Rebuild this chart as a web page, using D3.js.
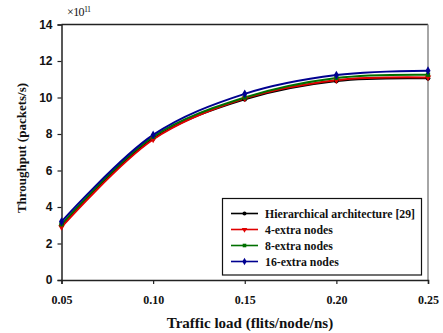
<!DOCTYPE html>
<html>
<head>
<meta charset="utf-8">
<script src="https://cdn.jsdelivr.net/npm/d3@7"></script>
<style>
  html, body { margin: 0; padding: 0; background: #fff; }
  svg { display: block; }
  .serif { font-family: "Liberation Serif", "Times New Roman", "DejaVu Serif", serif; font-weight: bold; }
  .sans { font-family: "Liberation Sans", Arial, sans-serif; font-weight: bold; }
</style>
</head>
<body>
<svg id="chart" width="443" height="333"></svg>
<script>
// Traffic load (flits/node/ns)
const loads = [0.05, 0.10, 0.15, 0.20, 0.25];
// Throughput in units of 1e11 packets/s
const hierarchical = [3.0, 7.75, 9.9, 10.9, 11.05];
const extra4 = [2.9, 7.7, 9.95, 10.95, 11.1];
const extra8 = [3.05, 7.85, 10.0, 11.07, 11.25];
const extra16 = [3.2, 7.95, 10.2, 11.23, 11.47];

const seriesNames = ["Hierarchical architecture [29]", "4-extra nodes", "8-extra nodes", "16-extra nodes"];
const seriesColors = ["#000000", "#e00000", "#007000", "#000090"];
const seriesSymbols = [d3.symbolCircle, d3.symbolTriangle, d3.symbolSquare, d3.symbolDiamond];
const seriesValues = [hierarchical, extra4, extra8, extra16];

const xTicks = [0.05, 0.10, 0.15, 0.20, 0.25];
const yTicks = [0, 2, 4, 6, 8, 10, 12, 14];

const svg = d3.select("#chart");
const plotLeft = 61.5, plotRight = 428, plotTop = 24.5, plotBottom = 280;

const x = d3.scaleLinear().domain([0.05, 0.25]).range([plotLeft, plotRight]);
const y = d3.scaleLinear().domain([0, 14]).range([plotBottom, plotTop]);

// frame: top edge dark, right edge grey
svg.append("line").attr("x1", plotLeft).attr("x2", plotRight).attr("y1", plotTop).attr("y2", plotTop)
  .attr("stroke", "#222").attr("stroke-width", 1.5);
svg.append("line").attr("x1", plotRight).attr("x2", plotRight).attr("y1", plotTop).attr("y2", plotBottom)
  .attr("stroke", "#888").attr("stroke-width", 1.5);

// y axis
const yAxis = svg.append("g").attr("transform", `translate(${plotLeft},0)`)
  .call(d3.axisLeft(y).tickValues(yTicks).tickFormat(d3.format("d")).tickSize(4).tickPadding(5));
yAxis.attr("font-family", null).attr("font-size", null);
yAxis.select(".domain").attr("stroke", "#222").attr("stroke-width", 1.5);
yAxis.selectAll(".tick line").attr("stroke", "#222").attr("stroke-width", 1.2);
yAxis.selectAll(".tick text").attr("class", "sans")
  .attr("font-size", 12).attr("fill", "#111");

// x axis
const xAxis = svg.append("g").attr("transform", `translate(0,${plotBottom})`)
  .call(d3.axisBottom(x).tickValues(xTicks).tickFormat(d3.format(".2f")).tickSize(4).tickPadding(11));
xAxis.attr("font-family", null).attr("font-size", null);
xAxis.select(".domain").attr("stroke", "#222").attr("stroke-width", 1.5);
xAxis.selectAll(".tick line").attr("stroke", "#222").attr("stroke-width", 1.2);
xAxis.selectAll(".tick text").attr("class", "serif")
  .attr("font-size", 12).attr("fill", "#111");

// exponent marker above the y axis
const expo = svg.append("text").attr("x", 67).attr("y", 16)
  .style("font-family", "'Liberation Serif', 'Times New Roman', serif")
  .attr("font-size", 12).attr("fill", "#111").attr("letter-spacing", -0.6);
expo.append("tspan").text("×10");
expo.append("tspan").attr("dy", -4).attr("font-size", 8).text("11");

// axis titles
svg.append("text").attr("class", "serif")
  .attr("x", 250).attr("y", 328)
  .attr("text-anchor", "middle")
  .attr("font-size", 15).attr("fill", "#111")
  .text("Traffic load (flits/node/ns)");
svg.append("text").attr("class", "serif")
  .attr("transform", "translate(26,148) rotate(-90)")
  .attr("text-anchor", "middle")
  .attr("font-size", 13).attr("fill", "#111")
  .text("Throughput (packets/s)");

// series lines and markers
const line = d3.line()
  .x((d, i) => x(loads[i]))
  .y(d => y(d))
  .curve(d3.curveCatmullRom.alpha(0.5));

seriesValues.forEach((vals, s) => {
  svg.append("path").datum(vals)
    .attr("d", line)
    .attr("fill", "none")
    .attr("stroke", seriesColors[s])
    .attr("stroke-width", 2);
});
seriesValues.forEach((vals, s) => {
  const sym = d3.symbol().type(seriesSymbols[s]).size(s === 3 ? 22 : 18);
  svg.append("g").selectAll("path").data(vals).join("path")
    .attr("transform", (d, i) => `translate(${x(loads[i])},${y(d)})${s === 1 ? " rotate(180)" : ""}`)
    .attr("d", sym)
    .attr("fill", seriesColors[s]);
});

// legend
const lg = svg.append("g");
lg.append("rect").attr("x", 222.5).attr("y", 198.5).attr("width", 199).attr("height", 76.5)
  .attr("fill", "#fff").attr("stroke", "#111").attr("stroke-width", 1.2);
seriesNames.forEach((name, s) => {
  const ly = 213.5 + s * 16;
  lg.append("line").attr("x1", 231).attr("x2", 258).attr("y1", ly).attr("y2", ly)
    .attr("stroke", seriesColors[s]).attr("stroke-width", 1.6);
  lg.append("path")
    .attr("transform", `translate(244.5,${ly})${s === 1 ? " rotate(180)" : ""}`)
    .attr("d", d3.symbol().type(seriesSymbols[s]).size(s === 3 ? 16 : 13))
    .attr("fill", seriesColors[s]);
  lg.append("text").attr("class", "serif")
    .attr("x", 265).attr("y", ly + 4)
    .attr("font-size", 11.8).attr("fill", "#111")
    .text(name);
});
</script>
</body>
</html>
